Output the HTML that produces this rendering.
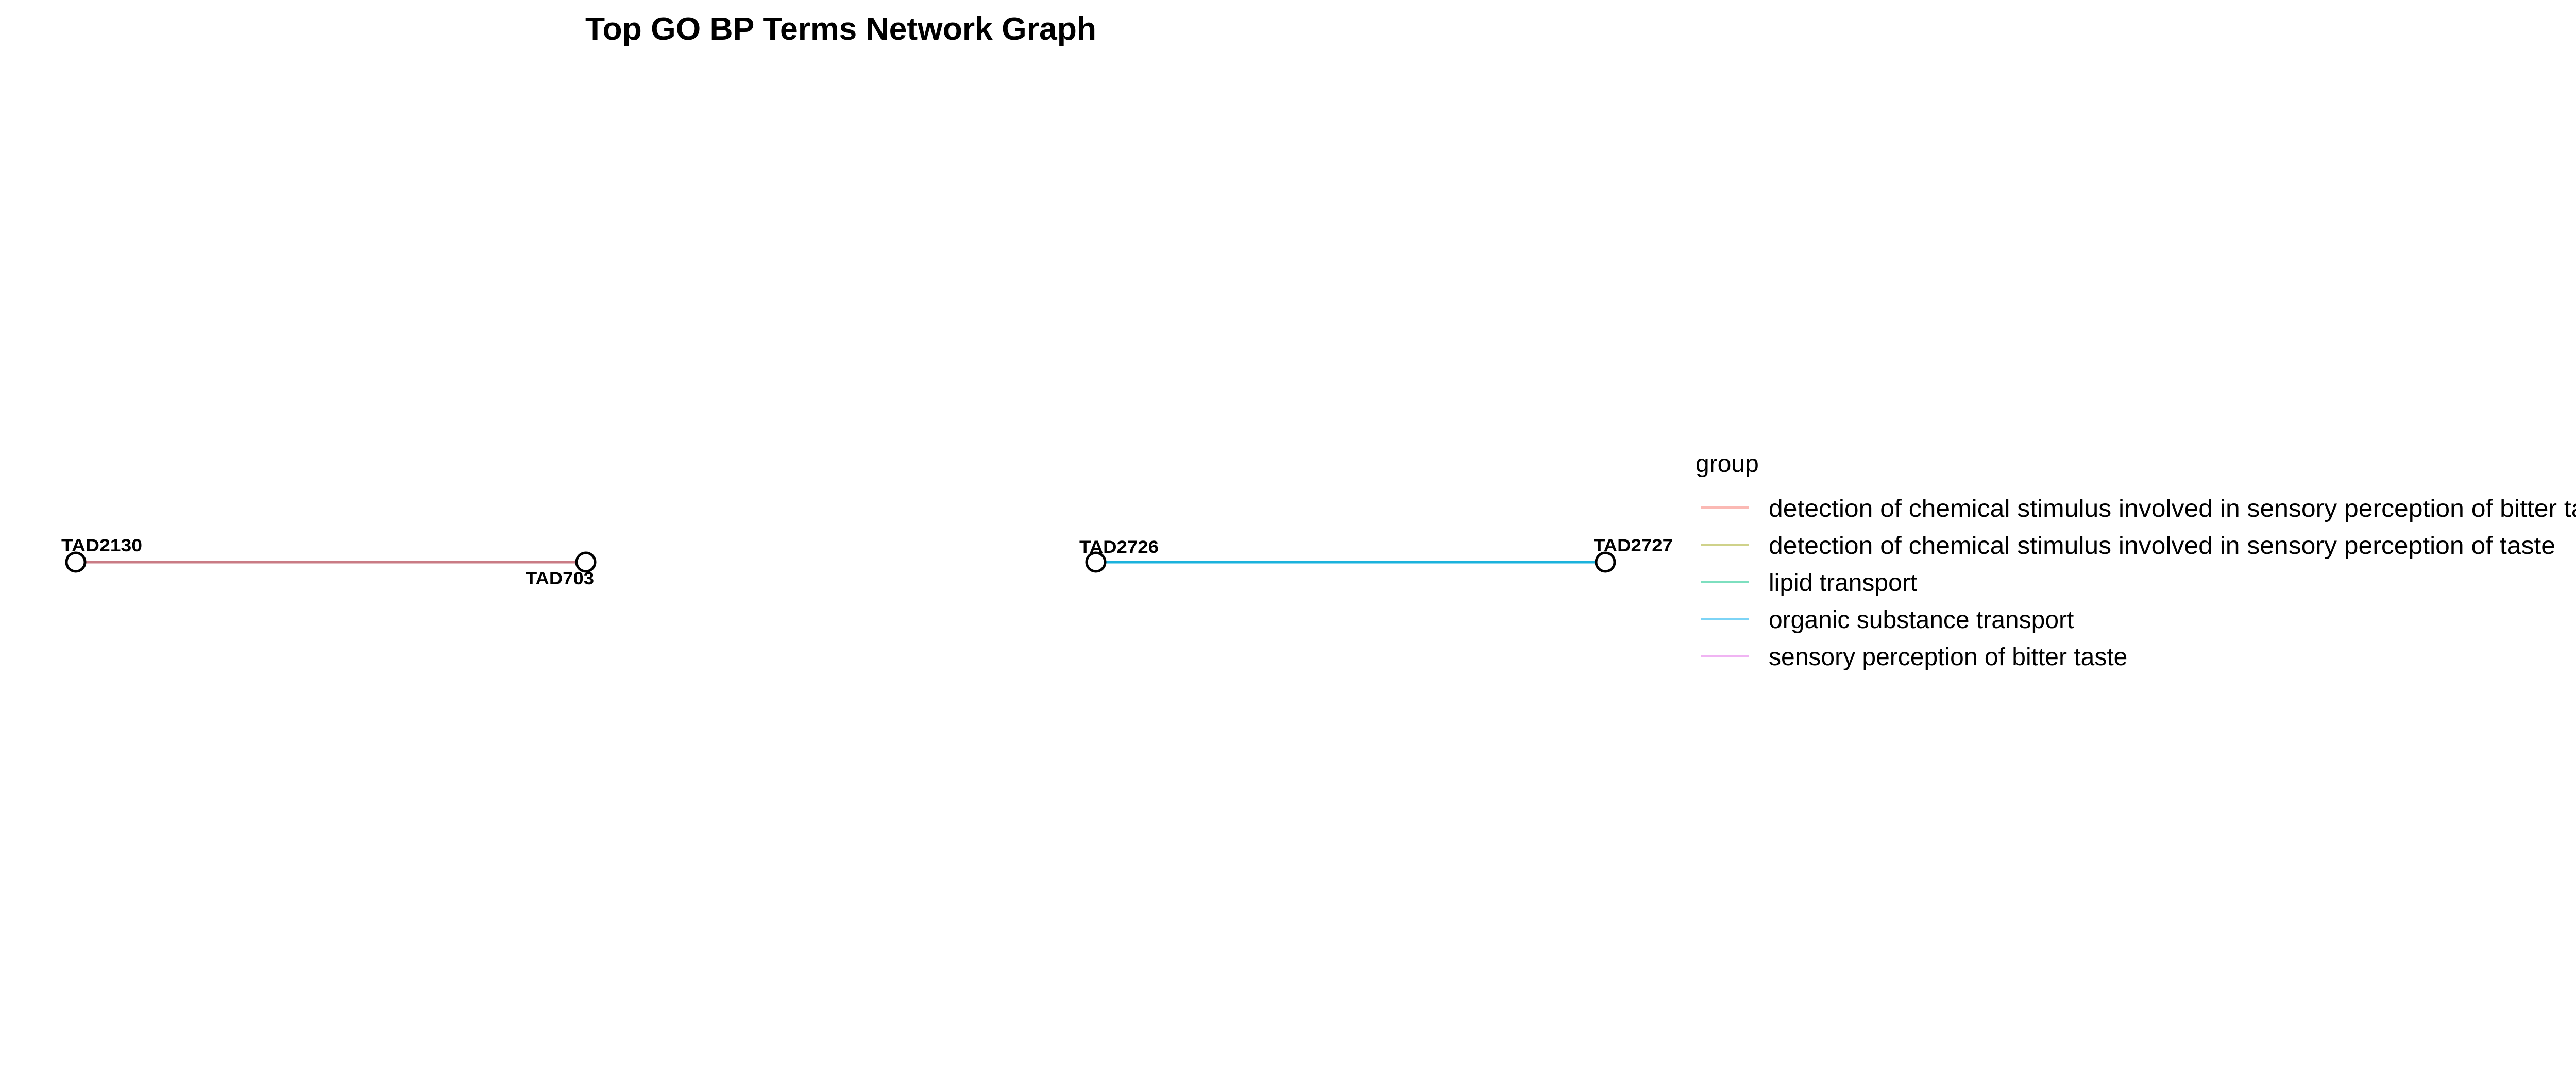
<!DOCTYPE html>
<html><head><meta charset="utf-8"><style>html,body{margin:0;padding:0;background:#fff}svg{display:block}</style></head>
<body>
<svg width="5100" height="2100" viewBox="0 0 5100 2100" xmlns="http://www.w3.org/2000/svg" font-family="Liberation Sans, Arial, sans-serif">
<rect width="5100" height="2100" fill="#fff"/>
<text x="1136" y="77" font-size="62" font-weight="bold" textLength="992" lengthAdjust="spacingAndGlyphs">Top GO BP Terms Network Graph</text>
<line x1="147" y1="1091" x2="1137" y2="1091" stroke="#c97b84" stroke-width="5"/>
<line x1="2127" y1="1091" x2="3116" y2="1091" stroke="#1ab2dc" stroke-width="5"/>
<g fill="#fff" stroke="#000" stroke-width="5">
<circle cx="147" cy="1091" r="18"/>
<circle cx="1137" cy="1091" r="18"/>
<circle cx="2127" cy="1091" r="18"/>
<circle cx="3116" cy="1091" r="18"/>
</g>
<g font-size="34" font-weight="bold">
<text x="119" y="1070" textLength="157" lengthAdjust="spacingAndGlyphs">TAD2130</text>
<text x="1020" y="1134" textLength="133" lengthAdjust="spacingAndGlyphs">TAD703</text>
<text x="2095" y="1073" textLength="154" lengthAdjust="spacingAndGlyphs">TAD2726</text>
<text x="3093" y="1070" textLength="154" lengthAdjust="spacingAndGlyphs">TAD2727</text>
</g>
<text x="3291" y="916" font-size="48">group</text>
<g stroke-width="4">
<line x1="3301" y1="985" x2="3395" y2="985" stroke="#fbb9b4"/>
<line x1="3301" y1="1057" x2="3395" y2="1057" stroke="#cfd28a"/>
<line x1="3301" y1="1129" x2="3395" y2="1129" stroke="#7ddfbf"/>
<line x1="3301" y1="1201" x2="3395" y2="1201" stroke="#7dd4f6"/>
<line x1="3301" y1="1273" x2="3395" y2="1273" stroke="#f0b4f3"/>
</g>
<g font-size="48">
<text x="3433" y="1003" textLength="1652" lengthAdjust="spacingAndGlyphs">detection of chemical stimulus involved in sensory perception of bitter taste</text>
<text x="3433" y="1075" textLength="1527" lengthAdjust="spacingAndGlyphs">detection of chemical stimulus involved in sensory perception of taste</text>
<text x="3433" y="1147">lipid transport</text>
<text x="3433" y="1219">organic substance transport</text>
<text x="3433" y="1291">sensory perception of bitter taste</text>
</g>
</svg>
</body></html>
